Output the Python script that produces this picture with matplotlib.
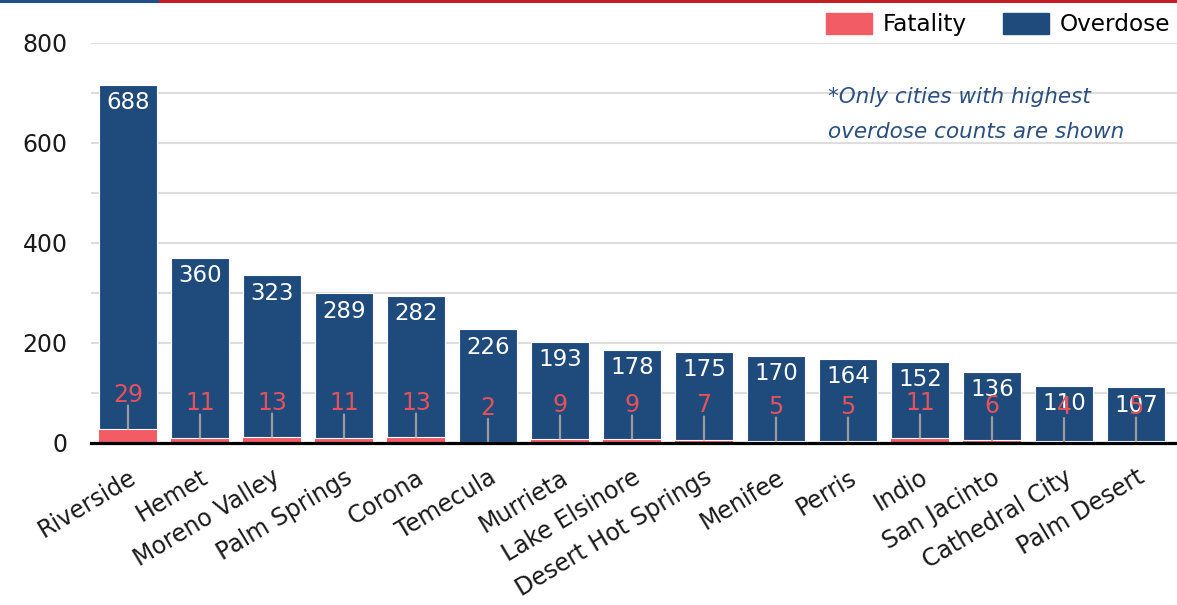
import matplotlib
matplotlib.use("Agg")
import matplotlib.pyplot as plt
from matplotlib.patches import Patch, Rectangle
import numpy as np

cities = ["Riverside", "Hemet", "Moreno Valley", "Palm Springs", "Corona", "Temecula",
          "Murrieta", "Lake Elsinore", "Desert Hot Springs", "Menifee", "Perris", "Indio",
          "San Jacinto", "Cathedral City", "Palm Desert"]
overdose = [688, 360, 323, 289, 282, 226, 193, 178, 175, 170, 164, 152, 136, 110, 107]
fatality = [29, 11, 13, 11, 13, 2, 9, 9, 7, 5, 5, 11, 6, 4, 5]
yticks = [0, 200, 400, 600, 800]

RED = "#F25C64"
RED_TXT = "#E5525B"
BLUE = "#1F4A7C"
NOTE = "#2B4F80"
TXT = "#1a1a1a"

plt.rcParams['font.family'] = ['DejaVu Sans']
W, H = 1177, 605
fig = plt.figure(figsize=(W / 100, H / 100), dpi=100)
ax = fig.add_axes([91 / W, (H - 443) / H, (W - 91) / W, 400 / H])

x = np.arange(len(cities))
fat = np.array(fatality)
od = np.array(overdose)
ax.bar(x, fat, width=0.8, color=RED, zorder=2)
ax.bar(x, od, bottom=fat, width=0.8, color=BLUE, edgecolor="white", linewidth=0.8, zorder=3)

for i in range(len(cities)):
    top = fat[i] + od[i]
    ax.annotate(str(od[i]), xy=(x[i], top), xytext=(0, -18), textcoords="offset pixels",
                ha="center", va="center", color="white", fontsize=16.5, zorder=5)
    ax.annotate("", xy=(x[i], fat[i]), xytext=(0, 23), textcoords="offset pixels",
                arrowprops=dict(arrowstyle="-", color="#9a9a9a", lw=1.6,
                                shrinkA=0, shrinkB=0), zorder=4)
    ax.annotate(str(fat[i]), xy=(x[i], fat[i]), xytext=(0, 34), textcoords="offset pixels",
                ha="center", va="center", color=RED_TXT, fontsize=17, zorder=5)

ax.set_ylim(0, 800)
ax.set_xlim((91 - 128) / 72, (W - 128) / 72)
ax.set_yticks(yticks)
ax.set_yticks([100, 300, 500, 700], minor=True)
ax.grid(axis="y", which="both", color="#dddddd", lw=1.5, zorder=0)
ax.set_axisbelow(True)
for s in ["top", "right", "left"]:
    ax.spines[s].set_visible(False)
ax.spines["bottom"].set_linewidth(2.3)
ax.spines["bottom"].set_color("black")
ax.spines["bottom"].set_zorder(6)
ax.tick_params(axis="both", which="both", length=0, labelsize=17, colors=TXT)
ax.tick_params(axis="y", pad=17)
ax.set_xticks(x)
ax.set_xticklabels(cities, rotation=31, ha="right", rotation_mode="anchor")
ax.tick_params(axis="x", pad=16)

ax.text(828 / W, 1 - 97 / H, "*Only cities with highest", transform=fig.transFigure,
        fontsize=15.5, style="italic", color=NOTE, ha="left", va="center")
ax.text(828 / W, 1 - 132 / H, "overdose counts are shown", transform=fig.transFigure,
        fontsize=15.5, style="italic", color=NOTE, ha="left", va="center")

handles = [Patch(color=RED, label="Fatality"), Patch(color=BLUE, label="Overdose")]
fig.legend(handles=handles, loc="center right", bbox_to_anchor=(1170 / W, 1 - 24.5 / H),
           ncol=2, frameon=False, fontsize=16.7, handlelength=2.0, handleheight=1.05,
           handletextpad=0.45, columnspacing=1.55, borderpad=0, borderaxespad=0)

fig.add_artist(Rectangle((0, 1 - 3 / H), 159 / W, 3 / H, transform=fig.transFigure,
                         color="#1F4E8C", lw=0))
fig.add_artist(Rectangle((159 / W, 1 - 3 / H), 1 - 159 / W, 3 / H, transform=fig.transFigure,
                         color="#C41E24", lw=0))

fig.savefig("out.png", dpi=100)
